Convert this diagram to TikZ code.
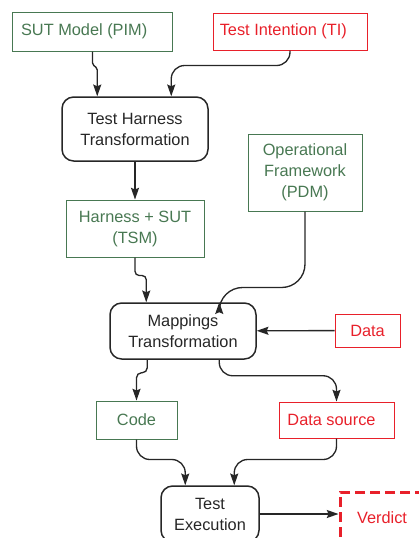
\documentclass[tikz,border=0pt]{standalone}
\usepackage{fontspec}
\setmainfont{Liberation Sans}
\usepackage{xcolor}
\usetikzlibrary{arrows, arrows.meta, calc}
\definecolor{modelgreen}{RGB}{72,120,82}
\definecolor{testred}{RGB}{232,32,42}
\tikzstyle{model} = [rectangle, inner sep=0pt, align=center, draw=modelgreen, text=modelgreen, line width=0.6pt]
\tikzstyle{testin} = [rectangle, inner sep=0pt, align=center, draw=testred, text=testred, line width=0.6pt]
\tikzstyle{transform} = [rectangle, rounded corners=7pt, inner sep=0pt, align=center, draw=black!85, text=black!85, line width=0.9pt]
\tikzstyle{result} = [rectangle, inner sep=0pt, align=center, draw=testred, text=testred, line width=1.8pt, dash pattern=on 6pt off 3pt]
\tikzstyle{arrow} = [line width=0.8pt, draw=black!85, -{Stealth[length=7pt, width=4.8pt, inset=1pt]}, rounded corners=5pt]

\begin{document}
\begin{tikzpicture}[x=0.6pt, y=-0.6pt, font=\fontsize{9.8}{12.6}\selectfont]
   \useasboundingbox (0,0) rectangle (419,538);
   \node (sut) [model, minimum width=96.6pt, minimum height=23.4pt] at (92.5,31.5) {\hspace*{-10pt}SUT Model (PIM)};
   \node (ti) [testin, minimum width=92.4pt, minimum height=22.2pt] at (290,31.5) {\hspace*{-8pt}Test Intention (TI)};
   \node (tht) [transform, minimum width=87.6pt, minimum height=38.4pt] at (135,129) {Test Harness\\Transformation};
   \node (pdm) [model, minimum width=68.4pt, minimum height=46.2pt] at (305,172.5) {Operational\\Framework\\(PDM)};
   \node (tsm) [model, minimum width=82.8pt, minimum height=34.2pt] at (135,228.5) {Harness + SUT\\(TSM)};
   \node (mt) [transform, minimum width=87.6pt, minimum height=33.6pt] at (183,331) {Mappings\\Transformation};
   \node (data) [testin, minimum width=39pt, minimum height=19.8pt] at (367.5,330.5) {Data};
   \node (code) [model, minimum width=48.6pt, minimum height=22.8pt] at (136.5,420) {Code};
   \node (ds) [testin, minimum width=69pt, minimum height=21.6pt] at (336.5,420) {\hspace*{-6pt}Data source};
   \node (te) [transform, minimum width=58.8pt, minimum height=33.6pt] at (210,514) {Test\\Execution};
   \node (vd) [result, minimum width=50.4pt, minimum height=31.2pt] at (382,518) {Verdict};
   \draw [arrow, rounded corners=1pt] (sut.south) -- ++(0,13) -- ($(tht.north west)+(36,-28)$) -- ($(tht.north west)+(36,0)$);
   \draw [arrow, rounded corners=8pt] (ti.south) -- ++(0,15) -| ($(tht.north west)+(110,0)$);
   \draw [arrow] (tht) -- (tsm);
   \draw [arrow, rounded corners=2.5pt] (tsm.south) -- ++(0,18) -| ($(mt.north west)+(37,0)$);
   \draw [arrow, rounded corners=14pt] (pdm.south) -- ++(0,76) -| ($(mt.north west)+(110,0)$);
   \draw [arrow] (data) -- (mt);
   \draw [arrow, rounded corners=3pt] ($(mt.south west)+(38,0)$) -- ++(0,13) -| (code.north);
   \draw [arrow, rounded corners=8pt] ($(mt.south west)+(110,0)$) -- ++(0,16) -| (ds.north);
   \draw [arrow, rounded corners=8pt] (code.south) -- ++(0,20) -| ($(te.north west)+(25,0)$);
   \draw [arrow, rounded corners=8pt] (ds.south) -- ++(0,21) -| ($(te.north west)+(74,0)$);
   \draw [arrow] (te.east) -- (te.east -| vd.west);
\end{tikzpicture}
\end{document}
